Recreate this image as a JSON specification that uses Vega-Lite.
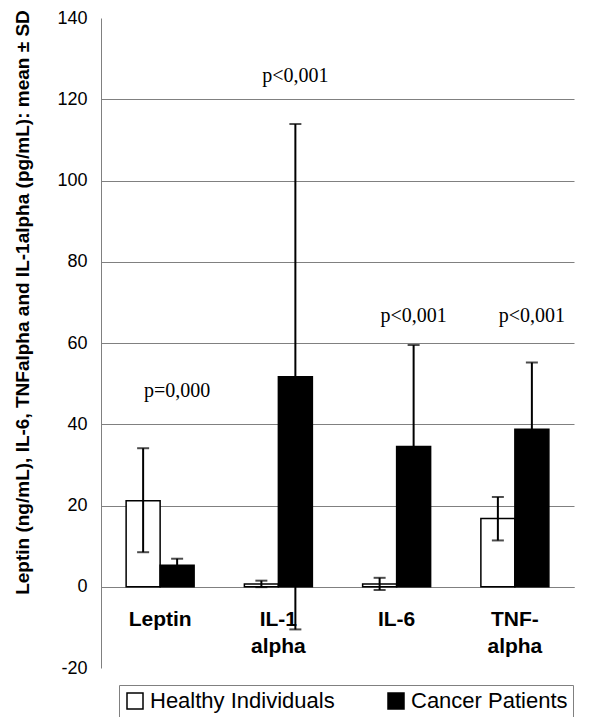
{
  "$schema": "https://vega.github.io/schema/vega-lite/v6.json",
  "width": 473,
  "height": 650,
  "autosize": {"type": "none"},
  "padding": {"left": 101, "top": 18, "right": 20, "bottom": 49},
  "config": {"view": {"stroke": null}, "font": "Liberation Sans"},
  "datasets": {
    "bars": [
      {"cytokine": "Leptin", "group": "Healthy Individuals", "mean": 21.2, "lo": 8.5, "hi": 34.1},
      {"cytokine": "Leptin", "group": "Cancer Patients", "mean": 5.3, "lo": 3.7, "hi": 6.9},
      {"cytokine": "IL-1 alpha", "group": "Healthy Individuals", "mean": 0.7, "lo": -0.1, "hi": 1.5},
      {"cytokine": "IL-1 alpha", "group": "Cancer Patients", "mean": 51.7, "lo": -10.5, "hi": 113.9},
      {"cytokine": "IL-6", "group": "Healthy Individuals", "mean": 0.7, "lo": -0.8, "hi": 2.2},
      {"cytokine": "IL-6", "group": "Cancer Patients", "mean": 34.5, "lo": 9.5, "hi": 59.5},
      {"cytokine": "TNF-alpha", "group": "Healthy Individuals", "mean": 16.8, "lo": 11.4, "hi": 22.1},
      {"cytokine": "TNF-alpha", "group": "Cancer Patients", "mean": 38.8, "lo": 22.4, "hi": 55.2}
    ],
    "pvals": [
      {"cytokine": "Leptin", "ypos": 48.1, "label": "p=0,000"},
      {"cytokine": "IL-1 alpha", "ypos": 125.7, "label": "p<0,001"},
      {"cytokine": "IL-6", "ypos": 66.7, "label": "p<0,001"},
      {"cytokine": "TNF-alpha", "ypos": 66.7, "label": "p<0,001"}
    ]
  },
  "layer": [
    {
      "data": {"name": "bars"},
      "mark": {"type": "bar", "stroke": "black", "strokeWidth": 1.5},
      "encoding": {
        "x": {
          "field": "cytokine", "type": "nominal", "title": null,
          "sort": ["Leptin", "IL-1 alpha", "IL-6", "TNF-alpha"],
          "scale": {"paddingInner": 0.425, "paddingOuter": 0.2125},
          "axis": {
            "offset": -81, "domainColor": "#808080", "ticks": false,
            "labelAngle": 0, "labelFontSize": 21, "labelFontWeight": "bold", "labelColor": "black",
            "labelPadding": 21, "labelLineHeight": 27, "labelBaseline": "top",
            "labelExpr": "datum.label == 'TNF-alpha' ? ['TNF-', 'alpha'] : split(datum.label, ' ')"
          }
        },
        "xOffset": {"field": "group", "type": "nominal", "sort": ["Healthy Individuals", "Cancer Patients"]},
        "y": {
          "field": "mean", "type": "quantitative",
          "title": "Leptin (ng/mL), IL-6, TNFalpha and IL-1alpha (pg/mL): mean ± SD",
          "scale": {"domain": [-20, 140], "nice": false, "zero": false},
          "axis": {
            "titleFontSize": 19, "titleFontWeight": "bold", "titleColor": "black",
            "titleAngle": -90, "titleX": -79, "titleY": 284, "titleAlign": "center", "titleBaseline": "middle",
            "values": [-20, 0, 20, 40, 60, 80, 100, 120, 140],
            "labelExpr": "datum.value < 0 ? '-' + abs(datum.value) : datum.label",
            "grid": true,
            "gridColor": {"condition": {"test": "datum.value > 120 || datum.value < 0", "value": "transparent"}, "value": "#808080"},
            "domainColor": "#808080", "ticks": false,
            "labelFontSize": 18, "labelColor": "black", "labelPadding": 14
          }
        },
        "fill": {
          "field": "group", "type": "nominal",
          "scale": {"domain": ["Healthy Individuals", "Cancer Patients"], "range": ["white", "black"]},
          "legend": {
            "orient": "none", "legendX": 18, "legendY": 667, "direction": "horizontal", "columns": 2,
            "title": null, "symbolType": "square", "symbolSize": 256,
            "symbolStrokeColor": "black", "symbolStrokeWidth": 1.5,
            "labelFontSize": 22, "labelColor": "black", "labelOffset": 4, "labelLimit": 0, "columnPadding": 50,
            "strokeColor": "#808080", "padding": 5
          }
        }
      }
    },
    {
      "data": {"name": "bars"},
      "mark": {"type": "rule", "strokeWidth": 2, "color": "black"},
      "encoding": {
        "x": {"field": "cytokine", "type": "nominal", "title": null, "sort": ["Leptin", "IL-1 alpha", "IL-6", "TNF-alpha"]},
        "xOffset": {"field": "group", "type": "nominal", "sort": ["Healthy Individuals", "Cancer Patients"]},
        "y": {"field": "lo", "type": "quantitative", "title": "Leptin (ng/mL), IL-6, TNFalpha and IL-1alpha (pg/mL): mean ± SD"},
        "y2": {"field": "hi"}
      }
    },
    {
      "data": {"name": "bars"},
      "mark": {"type": "tick", "size": 12, "thickness": 2, "color": "black", "orient": "horizontal"},
      "encoding": {
        "x": {"field": "cytokine", "type": "nominal", "title": null, "sort": ["Leptin", "IL-1 alpha", "IL-6", "TNF-alpha"]},
        "xOffset": {"field": "group", "type": "nominal", "sort": ["Healthy Individuals", "Cancer Patients"]},
        "y": {"field": "hi", "type": "quantitative", "title": "Leptin (ng/mL), IL-6, TNFalpha and IL-1alpha (pg/mL): mean ± SD"}
      }
    },
    {
      "data": {"name": "bars"},
      "mark": {"type": "tick", "size": 12, "thickness": 2, "color": "black", "orient": "horizontal"},
      "encoding": {
        "x": {"field": "cytokine", "type": "nominal", "title": null, "sort": ["Leptin", "IL-1 alpha", "IL-6", "TNF-alpha"]},
        "xOffset": {"field": "group", "type": "nominal", "sort": ["Healthy Individuals", "Cancer Patients"]},
        "y": {"field": "lo", "type": "quantitative", "title": "Leptin (ng/mL), IL-6, TNFalpha and IL-1alpha (pg/mL): mean ± SD"}
      }
    },
    {
      "data": {"name": "pvals"},
      "mark": {"type": "text", "font": "Liberation Serif", "fontSize": 20, "dx": 17, "color": "black"},
      "encoding": {
        "x": {"field": "cytokine", "type": "nominal", "title": null, "sort": ["Leptin", "IL-1 alpha", "IL-6", "TNF-alpha"]},
        "y": {"field": "ypos", "type": "quantitative", "title": "Leptin (ng/mL), IL-6, TNFalpha and IL-1alpha (pg/mL): mean ± SD"},
        "text": {"field": "label"}
      }
    }
  ]
}
